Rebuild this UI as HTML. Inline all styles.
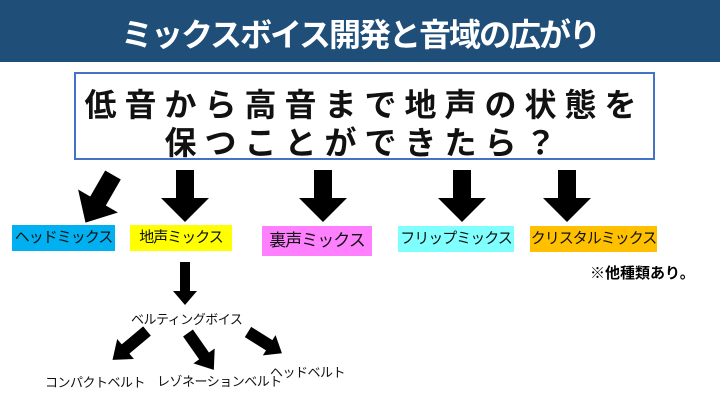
<!DOCTYPE html>
<html><head><meta charset="utf-8"><style>
body{margin:0;width:720px;height:405px;background:#fff;position:relative;overflow:hidden;font-family:"Liberation Sans","Noto Sans CJK JP",sans-serif}
.a{position:absolute;white-space:nowrap}
.hd{left:0;top:0;width:720px;height:62px;background:#1F4E79}
.t{left:0;width:720px;top:10px;text-align:center;color:#fff;font-size:32px;font-weight:bold;letter-spacing:-2px}
.box{left:74px;top:72px;width:577px;height:84px;border:2px solid #4472C4}
.q{left:74px;width:581px;text-align:center;font-size:32px;font-weight:bold;letter-spacing:8px;color:#111}
.l{font-size:15px;text-align:center;letter-spacing:-1px;color:#111;line-height:26px}
.s{font-size:13px;color:#111;letter-spacing:-0.5px}
</style></head><body>
<div class="a hd"></div>
<div class="a t">ミックスボイス開発と音域の広がり</div>
<div class="a box"></div>
<div class="a q" style="top:80px">低音から高音まで地声の状態を</div>
<div class="a q" style="top:118px">保つことができたら？</div>
<svg class="a" style="left:0;top:0" width="720" height="405">
<g fill="#000">
<polygon points="0,-9 30,-9 30,-23 55,0 30,23 30,9 0,9" transform="translate(113,175) rotate(120)"/>
<polygon points="176,170 194,170 194,198 209,198 185,222 161,198 176,198"/>
<polygon points="314,170 332,170 332,198 347,198 323,222 299,198 314,198"/>
<polygon points="453,170 471,170 471,198 486,198 462,222 438,198 453,198"/>
<polygon points="558,170 576,170 576,198 591,198 567,222 543,198 558,198"/>
<polygon points="180,262 190,262 190,291 197,291 185,305 173,291 180,291"/>
<polygon points="0,-6 28,-6 28,-13 45,0 28,13 28,6 0,6" transform="translate(147,331) rotate(140)"/>
<polygon points="0,-6 28,-6 28,-13 45,0 28,13 28,6 0,6" transform="translate(188,333) rotate(55)"/>
<polygon points="0,-6 25,-6 25,-12 40,0 25,12 25,6 0,6" transform="translate(248,332) rotate(32)"/>
</g></svg>
<div class="a l" style="left:12px;top:225px;width:103px;background:#00B0F0">ヘッドミックス</div>
<div class="a l" style="left:130px;top:225px;width:102px;background:#FFFF00">地声ミックス</div>
<div class="a l" style="left:262px;top:226px;width:110px;height:30px;line-height:30px;font-size:17px;background:#FF80FF">裏声ミックス</div>
<div class="a l" style="left:398px;top:226px;width:116px;background:#80FFFF">フリップミックス</div>
<div class="a l" style="left:530px;top:226px;width:127px;background:#FFC000">クリスタルミックス</div>
<div class="a" style="left:590px;top:262px;font-size:15px;font-weight:bold">※他種類あり。</div>
<div class="a s" style="left:131px;top:309px">ベルティングボイス</div>
<div class="a s" style="left:45px;top:372px">コンパクトベルト</div>
<div class="a s" style="left:157px;top:371px">レゾネーションベルト</div>
<div class="a s" style="left:270px;top:362px">ヘッドベルト</div>
</body></html>
